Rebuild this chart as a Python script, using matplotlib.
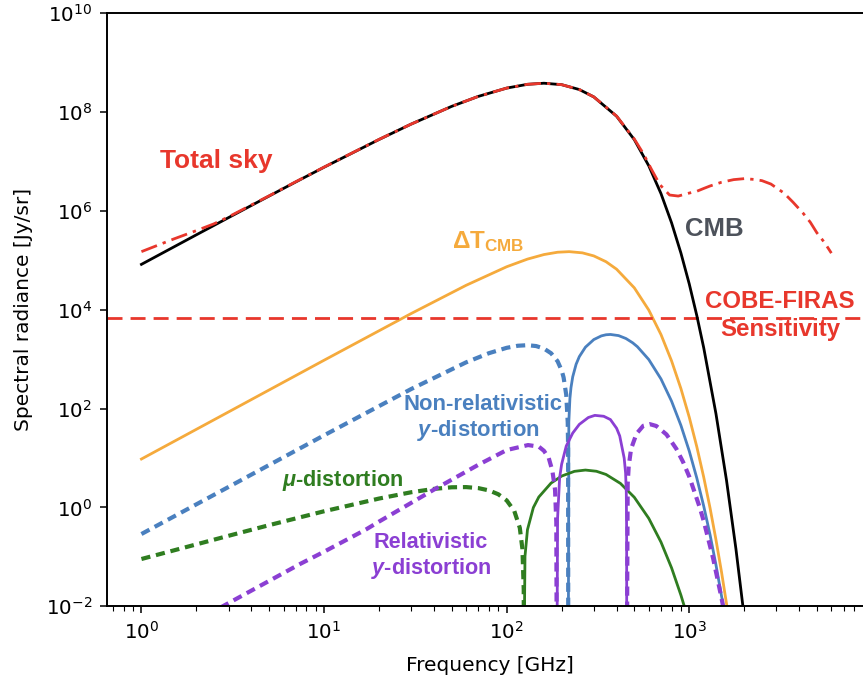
import numpy as np
import matplotlib
matplotlib.use("Agg")
import matplotlib.pyplot as plt
from matplotlib.ticker import LogLocator, NullLocator, LogFormatterSciNotation

plt.rcParams['mathtext.fontset'] = 'custom'
plt.rcParams['mathtext.bf'] = 'Liberation Sans:bold'
plt.rcParams['mathtext.bfit'] = 'Liberation Sans:italic:bold'

# frecuencias [GHz] e intensidades [Jy/sr]
nu_cmb = [1, 2, 3, 5, 7, 10, 20, 30, 50, 70, 100, 130, 160, 200, 250, 300, 400, 500, 600,
          700, 800, 900, 1000, 1100, 1200, 1400, 1600, 1800, 2000]
I_cmb = [8.3e4, 3.29e5, 7.33e5, 2.0e6, 3.86e6, 7.66e6, 2.79e7, 5.72e7, 1.306e8, 2.08e8,
         3.06e8, 3.65e8, 3.84e8, 3.59e8, 2.86e8, 2.03e8, 8.24e7, 2.77e7, 8.2e6,
         2.24e6, 5.74e5, 1.405e5, 3.32e4, 7590, 1695, 78.8, 3.49, 0.147, 6.0e-3]

nu_sky = [1, 1.5, 2, 2.5, 3, 4, 5, 7, 10, 20, 30, 50, 70, 100, 130, 160, 200, 250, 300,
          400, 500, 560, 620, 690, 780, 870, 1000, 1100, 1200, 1300, 1500, 1750, 2000,
          2250, 2500, 2800, 3300, 3700, 4200, 4600, 5000, 5500, 6000]
I_sky = [1.5e5, 2.7e5, 4.0e5, 5.5e5, 7.6e5, 1.32e6, 2.02e6, 3.9e6, 7.7e6, 2.8e7, 5.72e7,
         1.306e8, 2.08e8, 3.06e8, 3.65e8, 3.84e8, 3.59e8, 2.86e8, 2.03e8, 8.3e7, 2.85e7,
         1.45e7, 7.0e6, 3.4e6, 2.1e6, 2.0e6, 2.3e6, 2.5e6, 2.85e6, 3.2e6, 3.8e6, 4.3e6,
         4.5e6, 4.35e6, 4.1e6, 3.5e6, 2.3e6, 1.5e6, 9.0e5, 5.9e5, 3.6e5, 2.3e5, 1.4e5]

nu_dT = [1, 3, 10, 30, 60, 100, 130, 160, 190, 220, 260, 300, 350, 400, 500, 600, 700,
         800, 900, 1000, 1100, 1200, 1300, 1400, 1500, 1600, 1700]
I_dT = [9.55, 85.7, 952, 8390, 3.13e4, 7.42e4, 1.06e5, 1.31e5, 1.46e5, 1.50e5, 1.418e5,
        1.23e5, 9.39e4, 6.62e4, 2.78e4, 9880, 3150, 922, 254, 66.7, 16.8, 4.08, 0.968,
        0.222, 0.0506, 0.0112, 0.00246]

# y no relativista: negativa (trazos) y positiva (continua)
nu_y_neg = [1, 3, 10, 30, 60, 80, 100, 115, 130, 145, 160, 175, 190, 200, 205, 212, 216,
            217, 217.4]
I_y_neg = [0.29, 2.6, 28.8, 249, 864, 1324, 1698, 1870, 1921, 1844, 1641, 1321, 909, 594,
           428, 189, 52, 16, 1e-3]
nu_y_pos = [217.6, 219, 222, 225, 230, 240, 250, 270, 300, 330, 350, 370, 410, 450, 490,
            520, 600, 700, 800, 900, 1000, 1100, 1200, 1300, 1400, 1550]
I_y_pos = [1e-3, 54, 160, 265, 440, 789, 1129, 1751, 2495, 2962, 3122, 3166, 3003, 2620,
           2144, 1787, 985, 398, 141, 45.7, 13.8, 3.91, 1.06, 0.278, 0.069, 0.0084]

# distorsion mu
nu_mu_neg = [1, 2, 3, 5, 10, 20, 30, 40, 50, 60, 70, 80, 90, 100, 110, 118, 122, 124,
             124.3]
I_mu_neg = [0.0905, 0.179, 0.267, 0.438, 0.837, 1.513, 2.03, 2.375, 2.559, 2.582, 2.461,
            2.212, 1.848, 1.389, 0.856, 0.388, 0.144, 0.022, 1e-3]
nu_mu_pos = [124.5, 126, 130, 140, 150, 175, 200, 235, 270, 310, 350, 420, 500, 600, 700,
             800, 900, 950]
I_mu_pos = [1e-3, 0.103, 0.355, 0.994, 1.627, 3.111, 4.316, 5.379, 5.71, 5.40, 4.653,
            3.06, 1.605, 0.602, 0.199, 0.0598, 0.0168, 0.0087]

# y relativista
nu_rel_a = [1, 3, 7.4, 10, 17, 20, 40, 70, 100, 131, 150, 160, 170, 178, 184, 187, 188]
I_rel_a = [1.26e-3, 0.0116, 0.072, 0.127, 0.36, 0.517, 2.3, 7.3, 14.5, 18.3, 17.0, 14.0,
           10.0, 5.5, 2.3, 0.5, 1e-3]
nu_rel_b = [188.6, 190, 195, 200, 212, 230, 250, 280, 304, 340, 370, 400, 416, 440, 448,
            452, 454, 454.5]
I_rel_b = [1e-3, 0.6, 4.0, 7.5, 17.5, 32, 48, 66, 73, 70, 60, 40, 28, 10, 5, 2, 0.3, 1e-3]
nu_rel_c = [455.5, 460, 466, 480, 514, 560, 608, 660, 750, 850, 925, 1000, 1141, 1200,
            1350, 1500, 1560]
I_rel_c = [1e-3, 3.0, 6.8, 15.3, 31, 45, 48.5, 44.5, 30, 15.3, 8.3, 4.2, 1.0, 0.53, 0.094,
           0.015, 0.007]

firas = 6.8e3

c_red = '#e8372c'
c_orange = '#f5aa3c'
c_blue = '#4a80bf'
c_purple = '#8b3fd3'
c_green = '#2f7d20'

fig = plt.figure(figsize=(8.63, 6.80), dpi=100)
ax = fig.add_axes([0.1243, 0.1084, 0.886, 0.8721])

dash = (0, (2.2, 1.4))
ax.plot(nu_cmb, I_cmb, color='black', lw=2.0, zorder=3)
ax.plot(nu_sky, I_sky, color=c_red, lw=2.0, ls=(0, (6, 2.2, 1.2, 2.2)), zorder=4)
ax.plot(nu_dT, I_dT, color=c_orange, lw=2.0)
ax.plot(nu_y_neg, I_y_neg, color=c_blue, lw=3.0, ls=dash)
ax.plot(nu_y_pos, I_y_pos, color=c_blue, lw=2.0)
ax.plot(nu_mu_neg, I_mu_neg, color=c_green, lw=3.0, ls=dash)
ax.plot(nu_mu_pos, I_mu_pos, color=c_green, lw=2.0)
ax.plot(nu_rel_a, I_rel_a, color=c_purple, lw=3.0, ls=dash)
ax.plot(nu_rel_b, I_rel_b, color=c_purple, lw=2.0)
ax.plot(nu_rel_c, I_rel_c, color=c_purple, lw=3.0, ls=dash)
ax.axhline(firas, color=c_red, lw=2.0, ls=(0, (5.4, 2.9)))

ax.set_xscale('log')
ax.set_yscale('log')
ax.set_xlim(0.65, 1e4)
ax.set_ylim(1e-2, 1e10)
ax.set_xticks([1, 10, 100, 1000])
ax.set_yticks([1e-2, 1, 1e2, 1e4, 1e6, 1e8, 1e10])
ax.xaxis.set_major_formatter(LogFormatterSciNotation())
ax.yaxis.set_major_formatter(LogFormatterSciNotation())
ax.xaxis.set_minor_locator(LogLocator(base=10, subs=np.arange(2, 10), numticks=20))
ax.yaxis.set_minor_locator(NullLocator())
ax.tick_params(which='major', length=5.3, width=1.1, labelsize=14.3, pad=5.5)
ax.tick_params(which='minor', length=3.6, width=0.8)
for s in ax.spines.values():
    s.set_linewidth(1.4)
ax.spines['right'].set_visible(False)

ax.set_xlabel('Frequency [GHz]', fontsize=14.5, labelpad=9)
ax.set_ylabel('Spectral radiance [Jy/sr]', fontsize=14.5, labelpad=9)

tf = dict(family='Liberation Sans', weight='bold', va='baseline')
ax.text(1.26, 7.42e6, 'Total sky', color=c_red, fontsize=19, **tf)
ax.text(946, 3.06e5, 'CMB', color='#4d525b', fontsize=18.5, **tf)
ax.text(50, 1.78e5, r'$\mathbf{ΔT_{CMB}}$', color=c_orange, fontsize=17.5, **tf)
ax.text(3133, 1.087e4, 'COBE-FIRAS', color=c_red, fontsize=17.3, ha='center', **tf)
ax.text(3133, 2.9e3, 'Sensitivity', color=c_red, fontsize=17.3, ha='center', **tf)
ax.text(74.5, 95, 'Non-relativistic', color=c_blue, fontsize=15.8, ha='center', **tf)
ax.text(70.3, 27.4, r'$\mathbfit{y}$-distortion', color=c_blue, fontsize=15.8,
        ha='center', **tf)
ax.text(38.4, 0.1507, 'Relativistic', color=c_purple, fontsize=15.6, ha='center', **tf)
ax.text(38.4, 0.0449, r'$\mathbfit{y}$-distortion', color=c_purple, fontsize=15.6,
        ha='center', **tf)
ax.text(12.6, 2.75, r'$\mathbfit{μ}$-distortion', color=c_green, fontsize=15.6,
        ha='center', **tf)

fig.savefig('out.png', dpi=100)
